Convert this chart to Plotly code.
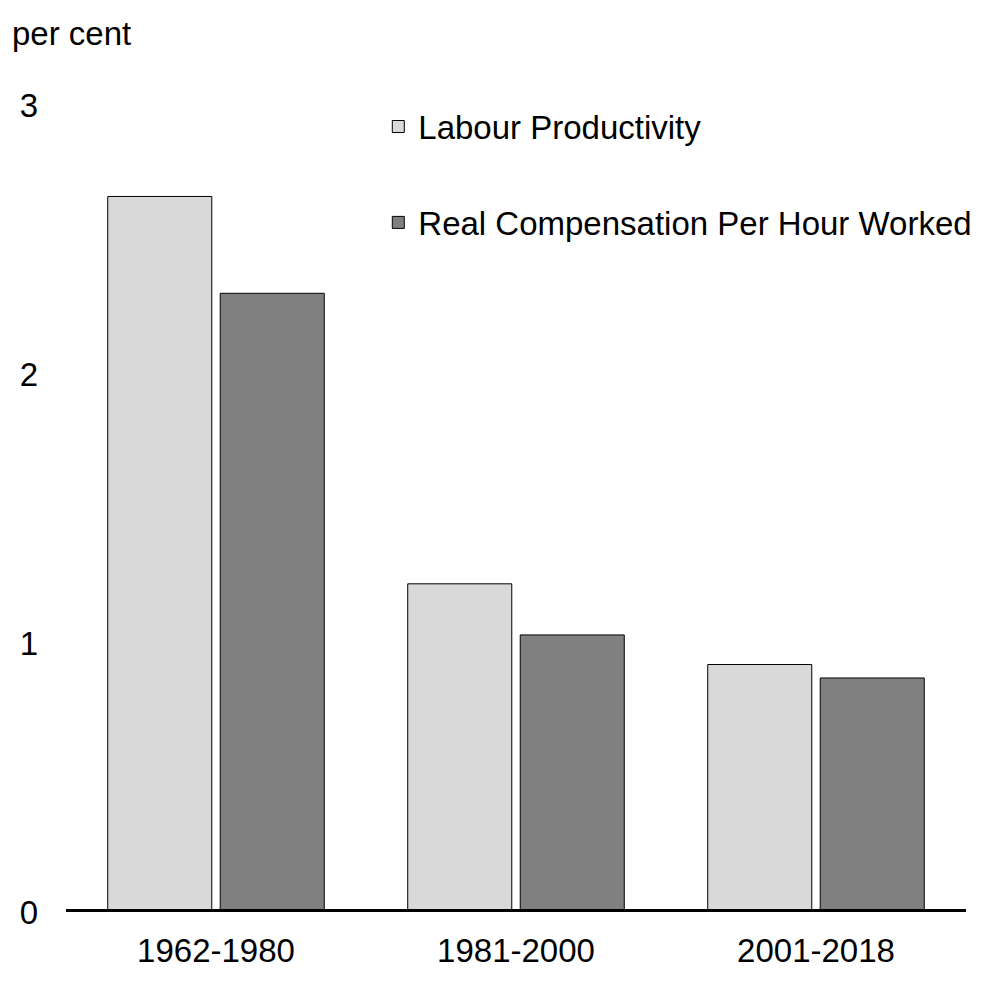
import plotly.graph_objects as go

# Data
periods = ['1962-1980', '1981-2000', '2001-2018']
labour_productivity = [2.66, 1.22, 0.92]
real_compensation = [2.30, 1.03, 0.87]

FONT = 'Liberation Sans, Arial, sans-serif'

fig = go.Figure()
fig.add_trace(go.Bar(x=periods, y=labour_productivity,
                     name='Labour Productivity', legendgroup='lp',
                     marker=dict(color='#d9d9d9',
                                 line=dict(color='black', width=1))))
fig.add_trace(go.Bar(x=periods, y=real_compensation,
                     name='Real Compensation Per Hour Worked', legendgroup='rc',
                     marker=dict(color='#808080',
                                 line=dict(color='black', width=1))))

# thick zero line across the plot
fig.add_shape(type='line', xref='paper', yref='y', x0=0, x1=1, y0=0, y1=0,
              line=dict(color='black', width=6), layer='above')

fig.add_annotation(text='per cent', xref='paper', yref='paper',
                   x=-0.062, y=1.089, xanchor='left', yanchor='middle',
                   showarrow=False, font=dict(size=33, color='black', family=FONT))

# page body has an 8px margin, so the figure is a bit smaller than the window
fig.update_layout(
    width=996, height=996,
    margin=dict(l=58, r=38, t=97, b=92),
    paper_bgcolor='white', plot_bgcolor='white',
    font=dict(family=FONT, size=33, color='black'),
    barmode='group', bargap=0.25, bargroupgap=0.075,
    showlegend=True,
    legend=dict(x=0.347, y=1.008, xanchor='left', yanchor='top',
                bgcolor='rgba(0,0,0,0)', tracegroupgap=50,
                font=dict(size=33, color='black', family=FONT)),
)
fig.update_xaxes(showgrid=False, showline=False, ticks='', zeroline=False,
                 ticklabelstandoff=16)
fig.update_yaxes(range=[0, 3], tickvals=[0, 1, 2, 3], showgrid=False,
                 showline=False, zeroline=False, ticks='',
                 ticklabelstandoff=27)

fig.write_html("out.html")
